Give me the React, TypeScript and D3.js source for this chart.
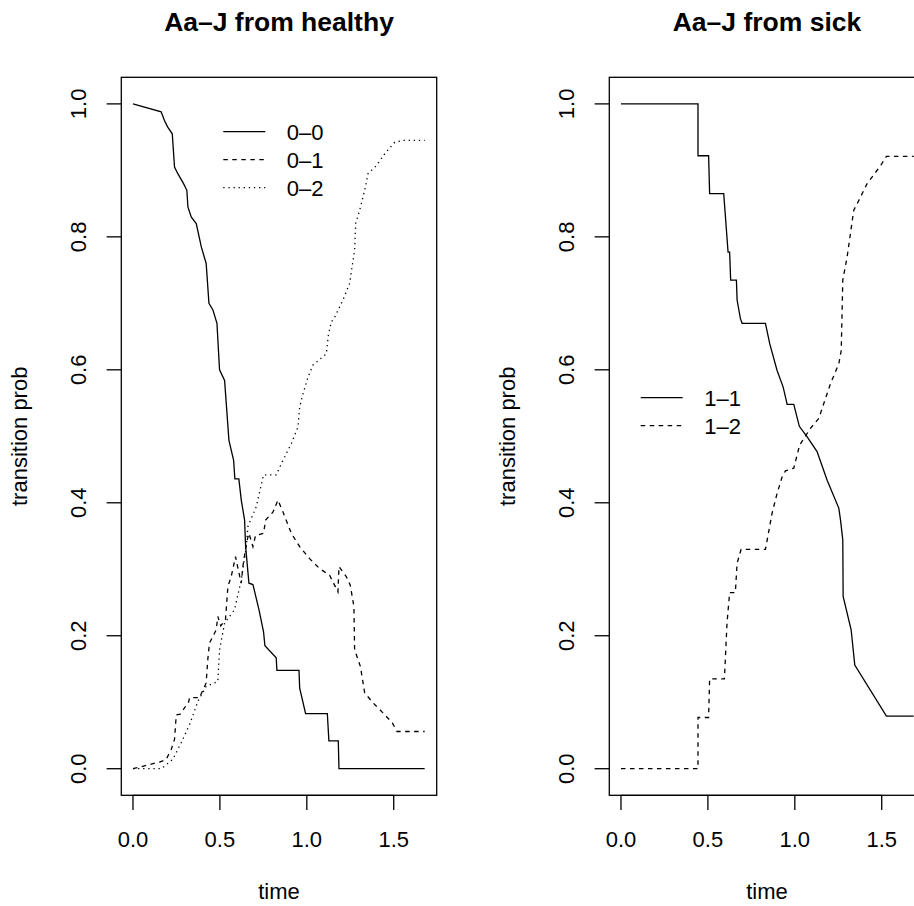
import React from "react";
import * as d3 from "d3";

// ---------- data ----------
const xTicks = [0, 0.5, 1.0, 1.5];
const xTickLabels = ["0.0", "0.5", "1.0", "1.5"];
const yTicks = [0, 0.2, 0.4, 0.6, 0.8, 1.0];
const yTickLabels = ["0.0", "0.2", "0.4", "0.6", "0.8", "1.0"];
const titles = ["Aa\u2013J from healthy", "Aa\u2013J from sick"];
const xLabel = "time";
const yLabel = "transition prob";
const xMax = 1.68;

// healthy panel
const t00 = [0, 0.162, 0.181, 0.2, 0.226, 0.239, 0.258, 0.291, 0.31, 0.316, 0.335, 0.364, 0.393, 0.421, 0.437, 0.46, 0.475, 0.483, 0.498, 0.527, 0.552, 0.579, 0.586, 0.609, 0.623, 0.642, 0.648, 0.667, 0.69, 0.725, 0.751, 0.759, 0.824, 0.828, 0.955, 0.959, 0.993, 1.118, 1.127, 1.181, 1.185, 1.678];
const p00 = [1, 0.988, 0.975, 0.965, 0.955, 0.905, 0.895, 0.88, 0.87, 0.845, 0.83, 0.82, 0.785, 0.76, 0.7, 0.69, 0.677, 0.67, 0.6, 0.584, 0.494, 0.464, 0.436, 0.436, 0.404, 0.374, 0.334, 0.279, 0.277, 0.239, 0.206, 0.185, 0.167, 0.148, 0.148, 0.121, 0.083, 0.083, 0.042, 0.042, 0, 0];

const t01 = [0, 0.076, 0.153, 0.191, 0.22, 0.239, 0.249, 0.272, 0.321, 0.325, 0.383, 0.421, 0.431, 0.44, 0.479, 0.488, 0.505, 0.532, 0.546, 0.565, 0.59, 0.605, 0.623, 0.632, 0.652, 0.667, 0.69, 0.705, 0.751, 0.763, 0.805, 0.834, 0.863, 0.911, 0.959, 1.016, 1.074, 1.131, 1.179, 1.185, 1.227, 1.25, 1.271, 1.275, 1.308, 1.333, 1.381, 1.438, 1.492, 1.519, 1.678];
const p01 = [0, 0.005, 0.01, 0.014, 0.029, 0.044, 0.081, 0.082, 0.101, 0.107, 0.107, 0.129, 0.166, 0.189, 0.209, 0.229, 0.215, 0.224, 0.274, 0.289, 0.319, 0.3, 0.279, 0.304, 0.339, 0.354, 0.334, 0.351, 0.354, 0.374, 0.386, 0.404, 0.386, 0.354, 0.334, 0.316, 0.301, 0.291, 0.266, 0.304, 0.289, 0.276, 0.244, 0.179, 0.154, 0.114, 0.099, 0.084, 0.069, 0.056, 0.056];

const t02 = [0, 0.163, 0.229, 0.277, 0.325, 0.373, 0.421, 0.488, 0.498, 0.527, 0.584, 0.623, 0.652, 0.661, 0.709, 0.751, 0.824, 0.863, 0.911, 0.949, 0.959, 0.978, 1.007, 1.035, 1.112, 1.125, 1.141, 1.16, 1.208, 1.246, 1.275, 1.281, 1.304, 1.333, 1.352, 1.4, 1.448, 1.505, 1.553, 1.678];
const p02 = [0, 0, 0.014, 0.039, 0.066, 0.101, 0.124, 0.131, 0.179, 0.219, 0.239, 0.284, 0.334, 0.364, 0.394, 0.442, 0.442, 0.464, 0.489, 0.514, 0.544, 0.564, 0.589, 0.607, 0.624, 0.654, 0.672, 0.679, 0.705, 0.73, 0.78, 0.82, 0.84, 0.87, 0.895, 0.907, 0.925, 0.942, 0.945, 0.945];

// sick panel
const t11 = [0, 0.443, 0.443, 0.504, 0.51, 0.591, 0.616, 0.625, 0.631, 0.664, 0.668, 0.687, 0.697, 0.831, 0.856, 0.898, 0.933, 0.956, 0.994, 1.026, 1.071, 1.128, 1.186, 1.253, 1.263, 1.276, 1.278, 1.324, 1.345, 1.527, 1.684];
const p11 = [1, 1, 0.922, 0.922, 0.865, 0.865, 0.777, 0.777, 0.735, 0.735, 0.705, 0.677, 0.67, 0.67, 0.639, 0.599, 0.574, 0.548, 0.548, 0.515, 0.499, 0.477, 0.434, 0.392, 0.374, 0.344, 0.259, 0.209, 0.156, 0.079, 0.079];

const t12 = [0, 0.443, 0.443, 0.504, 0.51, 0.595, 0.61, 0.625, 0.658, 0.668, 0.691, 0.831, 0.841, 0.869, 0.898, 0.927, 0.946, 0.994, 1.028, 1.09, 1.138, 1.205, 1.253, 1.267, 1.276, 1.301, 1.339, 1.359, 1.416, 1.493, 1.527, 1.684];
const p12 = [0, 0, 0.077, 0.077, 0.135, 0.135, 0.219, 0.265, 0.265, 0.309, 0.33, 0.33, 0.344, 0.384, 0.414, 0.439, 0.448, 0.452, 0.487, 0.512, 0.527, 0.579, 0.609, 0.629, 0.735, 0.77, 0.84, 0.85, 0.88, 0.907, 0.921, 0.921];

const healthyLabels = ["0\u20130", "0\u20131", "0\u20132"];
const sickLabels = ["1\u20131", "1\u20132"];

// ---------- styling / layout ----------
const W = 914;
const H = 906;
const FONT = "'Liberation Sans', Arial, Helvetica, sans-serif";
const DASH: Record<string, string | undefined> = {
  solid: undefined,
  dashed: "4.5,4.5",
  dotted: "1.3,3.8",
};

type Series = { t: number[]; p: number[]; style: string; label: string };

const panelWidth = 315.4;
const boxTop = 77.3;
const boxBottom = 795.3;
const lineH = 29.4;

function Panel({
  left,
  title,
  series,
  legendX,
  legendY,
}: {
  left: number;
  title: string;
  series: Series[];
  legendX: number;
  legendY: number;
}) {
  const ext = 0.04 * xMax;
  const x = d3.scaleLinear().domain([-ext, xMax + ext]).range([left, left + panelWidth]);
  const y = d3.scaleLinear().domain([-0.04, 1.04]).range([boxBottom, boxTop]);
  const line = d3
    .line<[number, number]>()
    .x((d) => x(d[0]))
    .y((d) => y(d[1]));
  const cx = left + panelWidth / 2;
  const cy = (boxTop + boxBottom) / 2;
  const tickLen = lineH / 2;

  return (
    <g>
      <text
        x={cx}
        y={31}
        textAnchor="middle"
        fontFamily={FONT}
        fontWeight="bold"
        fontSize={26.5}
      >
        {title}
      </text>
      <rect
        x={left}
        y={boxTop}
        width={panelWidth}
        height={boxBottom - boxTop}
        fill="none"
        stroke="#000"
        strokeWidth={1.3}
      />
      {/* x axis */}
      <line x1={x(xTicks[0])} x2={x(xTicks[xTicks.length - 1])} y1={boxBottom} y2={boxBottom} stroke="#000" strokeWidth={1.3} />
      {xTicks.map((v, i) => (
        <g key={"xt" + i}>
          <line x1={x(v)} x2={x(v)} y1={boxBottom} y2={boxBottom + tickLen} stroke="#000" strokeWidth={1.3} />
          <text x={x(v)} y={847} textAnchor="middle" fontFamily={FONT} fontSize={22}>
            {xTickLabels[i]}
          </text>
        </g>
      ))}
      {/* y axis */}
      {yTicks.map((v, i) => (
        <g key={"yt" + i}>
          <line x1={left} x2={left - tickLen} y1={y(v)} y2={y(v)} stroke="#000" strokeWidth={1.3} />
          <text
            transform={`translate(${left - 1.2 * lineH},${y(v)}) rotate(-90)`}
            textAnchor="middle"
            fontFamily={FONT}
            fontSize={22}
          >
            {yTickLabels[i]}
          </text>
        </g>
      ))}
      <text x={cx} y={899} textAnchor="middle" fontFamily={FONT} fontSize={22}>
        {xLabel}
      </text>
      <text
        transform={`translate(${left - 3.2 * lineH},${cy}) rotate(-90)`}
        textAnchor="middle"
        fontFamily={FONT}
        fontSize={22}
      >
        {yLabel}
      </text>
      {/* curves */}
      {series.map((s, i) => (
        <path
          key={"s" + i}
          d={line(s.t.map((t, j) => [t, s.p[j]] as [number, number])) || ""}
          fill="none"
          stroke="#000"
          strokeWidth={1.3}
          strokeDasharray={DASH[s.style]}
        />
      ))}
      {/* legend */}
      {series.map((s, i) => (
        <g key={"lg" + i}>
          <line
            x1={legendX}
            x2={legendX + 42}
            y1={legendY + i * 28}
            y2={legendY + i * 28}
            stroke="#000"
            strokeWidth={1.3}
            strokeDasharray={DASH[s.style]}
          />
          <text x={legendX + 63.5} y={legendY + i * 28} dy="0.36em" fontFamily={FONT} fontSize={22}>
            {s.label}
          </text>
        </g>
      ))}
    </g>
  );
}

export default function App() {
  const healthy: Series[] = [
    { t: t00, p: p00, style: "solid", label: healthyLabels[0] },
    { t: t01, p: p01, style: "dashed", label: healthyLabels[1] },
    { t: t02, p: p02, style: "dotted", label: healthyLabels[2] },
  ];
  const sick: Series[] = [
    { t: t11, p: p11, style: "solid", label: sickLabels[0] },
    { t: t12, p: p12, style: "dashed", label: sickLabels[1] },
  ];
  return (
    <svg
      width={W}
      height={H}
      style={{ position: "absolute", left: 0, top: 0, background: "#fff" }}
    >
      <rect width={W} height={H} fill="#fff" />
      <Panel left={121.3} title={titles[0]} series={healthy} legendX={223.3} legendY={131.7} />
      <Panel left={609.3} title={titles[1]} series={sick} legendX={640.7} legendY={397.7} />
    </svg>
  );
}
